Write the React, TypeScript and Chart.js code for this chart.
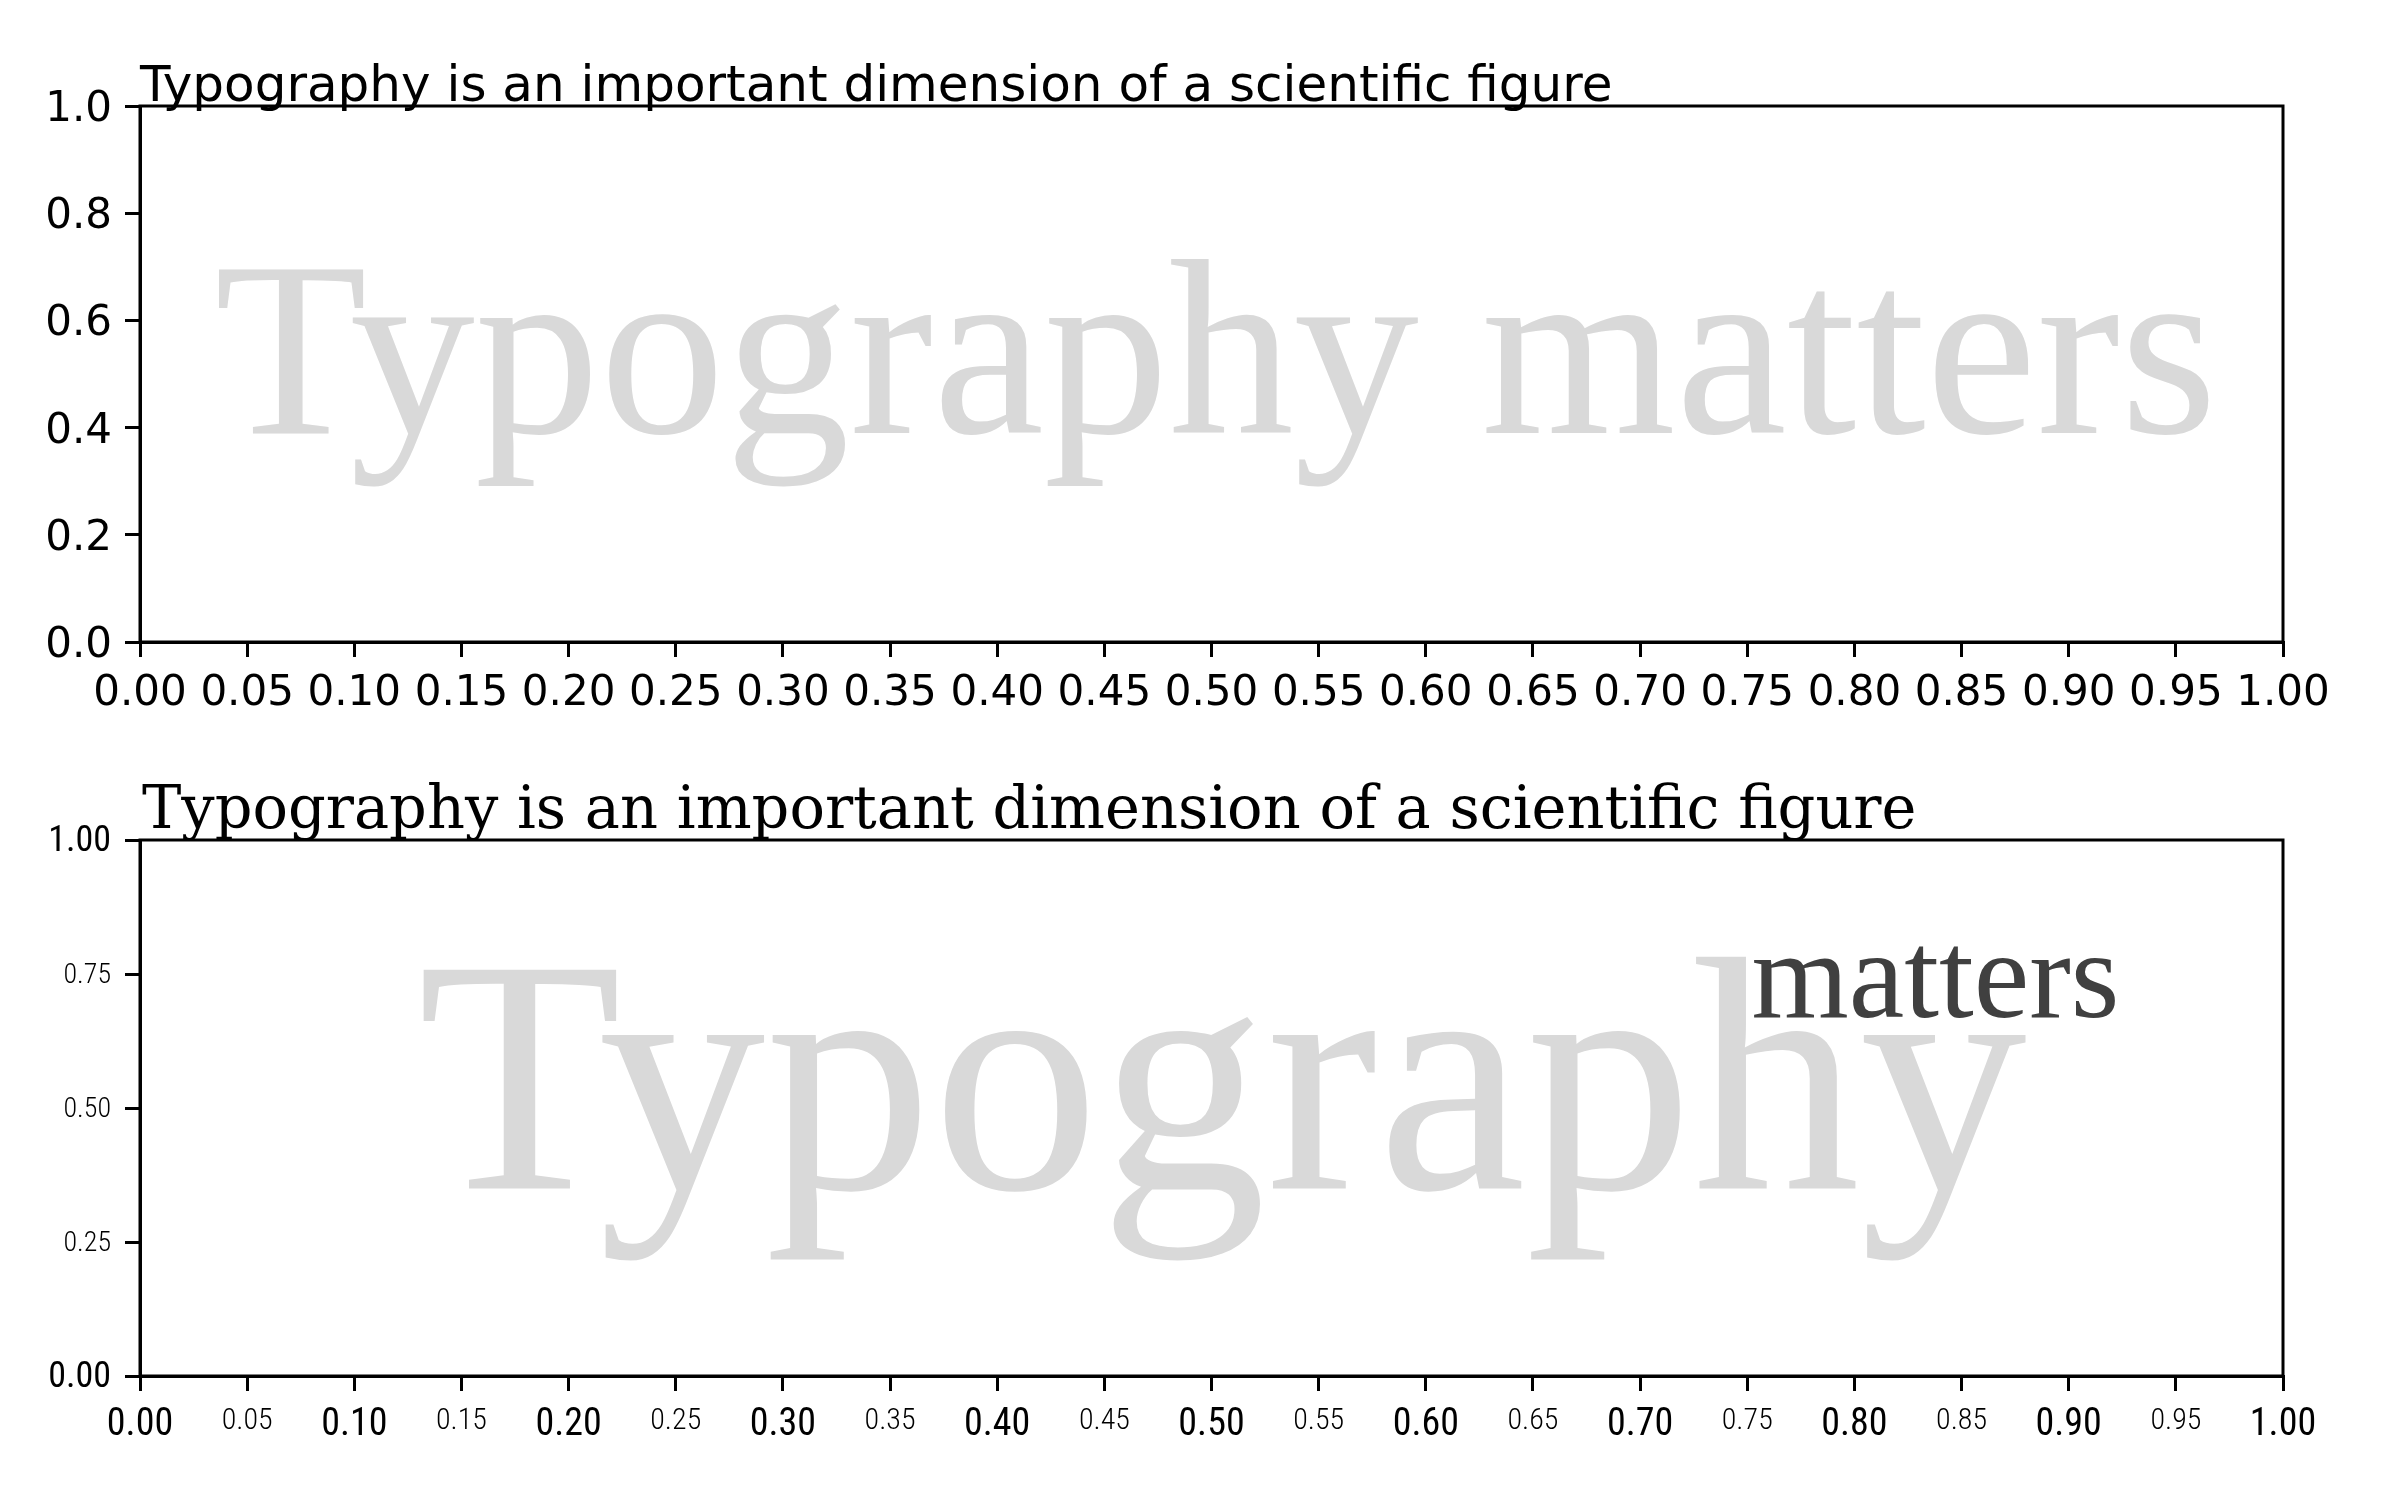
import React, { useEffect, useRef } from "react";
import { Chart, registerables } from "chart.js";

Chart.register(...registerables);

// tick values
const xTicks = [0, 0.05, 0.1, 0.15, 0.2, 0.25, 0.3, 0.35, 0.4, 0.45, 0.5, 0.55, 0.6, 0.65, 0.7, 0.75, 0.8, 0.85, 0.9, 0.95, 1.0];
const topYTicks = [0, 0.2, 0.4, 0.6, 0.8, 1.0];
const bottomYTicks = [0, 0.25, 0.5, 0.75, 1.0];

// texts
const titleText = "Typography is an important dimension of a scientific figure";
const topWatermark = "Typography matters";
const bottomWatermark = "Typography";
const bottomAccent = "matters";

const CONDENSED = "'Roboto Condensed', 'Liberation Sans Narrow', Roboto, sans-serif";

const boxPlugin = {
  id: "box",
  afterDraw(chart: any) {
    const { ctx, chartArea } = chart;
    ctx.save();
    ctx.strokeStyle = "#000";
    ctx.lineWidth = 3;
    ctx.strokeRect(chartArea.left, chartArea.top, chartArea.right - chartArea.left, chartArea.bottom - chartArea.top);
    ctx.restore();
  },
};

const makeTextPlugin = (variant: "top" | "bottom") => ({
  id: "texts-" + variant,
  beforeDatasetsDraw(chart: any) {
    const { ctx, scales } = chart;
    const x = scales.x, y = scales.y;
    ctx.save();
    ctx.textBaseline = "alphabetic";
    if (variant === "top") {
      ctx.fillStyle = "#d9d9d9";
      ctx.font = "250px 'Liberation Serif'";
      ctx.textAlign = "center";
      ctx.fillText(topWatermark, x.getPixelForValue(0.502), y.getPixelForValue(0.39));
    } else {
      ctx.fillStyle = "#d9d9d9";
      ctx.font = "334px 'Liberation Serif'";
      ctx.textAlign = "center";
      ctx.fillText(bottomWatermark, x.getPixelForValue(0.505), y.getPixelForValue(0.35));
      ctx.fillStyle = "#404040";
      ctx.font = "125px 'Liberation Serif'";
      ctx.textAlign = "left";
      ctx.fillText(bottomAccent, x.getPixelForValue(0.752), y.getPixelForValue(0.67));
    }
    ctx.restore();
  },
  afterDraw(chart: any) {
    const { ctx, chartArea } = chart;
    ctx.save();
    ctx.textAlign = "left";
    ctx.textBaseline = "alphabetic";
    if (variant === "top") {
      ctx.font = "50px 'DejaVu Sans'";
      ctx.fillStyle = "#000";
      ctx.fillText(titleText, chartArea.left, chartArea.top - 5);
    } else {
      ctx.font = "59px 'DejaVu Serif'";
      ctx.lineJoin = "round";
      ctx.lineWidth = 10;
      ctx.strokeStyle = "#fff";
      ctx.strokeText(titleText, chartArea.left + 2, chartArea.top - 12);
      ctx.fillStyle = "#000";
      ctx.fillText(titleText, chartArea.left + 2, chartArea.top - 12);
    }
    ctx.restore();
  },
});

const axisCommon = {
  border: { display: true, color: "#000", width: 3 },
  grid: {
    display: true,
    drawOnChartArea: false,
    drawTicks: true,
    tickLength: 15,
    tickWidth: 3,
    lineWidth: 3,
    tickColor: "#000",
    color: "#000",
  },
};

const makeOptions = (variant: "top" | "bottom") => {
  const yValues = variant === "top" ? topYTicks : bottomYTicks;
  const isTop = variant === "top";
  return {
    animation: false,
    responsive: false,
    devicePixelRatio: 1,
    events: [],
    layout: {
      padding: { top: isTop ? 106 : 90, right: 117, left: 0, bottom: isTop ? 28 : 44 },
    },
    plugins: { legend: { display: false }, title: { display: false }, tooltip: { enabled: false } },
    scales: {
      x: {
        type: "linear",
        min: 0,
        max: 1,
        ...axisCommon,
        afterBuildTicks: (scale: any) => {
          scale.ticks = xTicks.map((v) => ({ value: v }));
        },
        afterFit: (scale: any) => {
          scale.height = 80;
        },
        ticks: {
          autoSkip: false,
          maxRotation: 0,
          minRotation: 0,
          padding: 12,
          color: "#000",
          callback: (v: any) => Number(v).toFixed(2),
          font: isTop
            ? { family: "'DejaVu Sans'", size: 42 }
            : (ctx: any) =>
                ctx.index % 2 === 0
                  ? { family: CONDENSED, size: 38, weight: "400 condensed" }
                  : { family: CONDENSED, size: 30, weight: "300 condensed" },
        },
      },
      y: {
        type: "linear",
        min: 0,
        max: 1,
        ...axisCommon,
        afterBuildTicks: (scale: any) => {
          scale.ticks = yValues.map((v) => ({ value: v }));
        },
        afterFit: (scale: any) => {
          scale.width = 140;
        },
        ticks: {
          autoSkip: false,
          padding: isTop ? 13 : 14,
          labelOffset: isTop ? 4 : 2,
          color: "#000",
          callback: (v: any) => Number(v).toFixed(isTop ? 1 : 2),
          font: isTop
            ? { family: "'DejaVu Sans'", size: 42 }
            : (ctx: any) =>
                ctx.index === 0 || ctx.index === yValues.length - 1
                  ? { family: CONDENSED, size: 36, weight: "400 condensed" }
                  : { family: CONDENSED, size: 28, weight: "300 condensed" },
        },
      },
    },
  };
};

const TypePanel = ({ variant }: { variant: "top" | "bottom" }) => {
  const canvasRef = useRef<HTMLCanvasElement>(null);
  const chartInstance = useRef<any>(null);

  useEffect(() => {
    if (chartInstance.current) chartInstance.current.destroy();
    if (canvasRef.current) {
      chartInstance.current = new Chart(canvasRef.current, {
        type: "scatter",
        data: { datasets: [] },
        options: makeOptions(variant) as any,
        plugins: [makeTextPlugin(variant), boxPlugin],
      });
    }
    return () => {
      if (chartInstance.current) {
        chartInstance.current.destroy();
        chartInstance.current = null;
      }
    };
  }, [variant]);

  return <canvas ref={canvasRef} width={2400} height={750} style={{ display: "block", width: 2400, height: 750 }} />;
};

const App = () => {
  useEffect(() => {
    document.body.style.margin = "0";
  }, []);

  return (
    <div style={{ width: 2400, height: 1500, background: "#fff" }}>
      <TypePanel variant="top" />
      <TypePanel variant="bottom" />
    </div>
  );
};

export default App;
